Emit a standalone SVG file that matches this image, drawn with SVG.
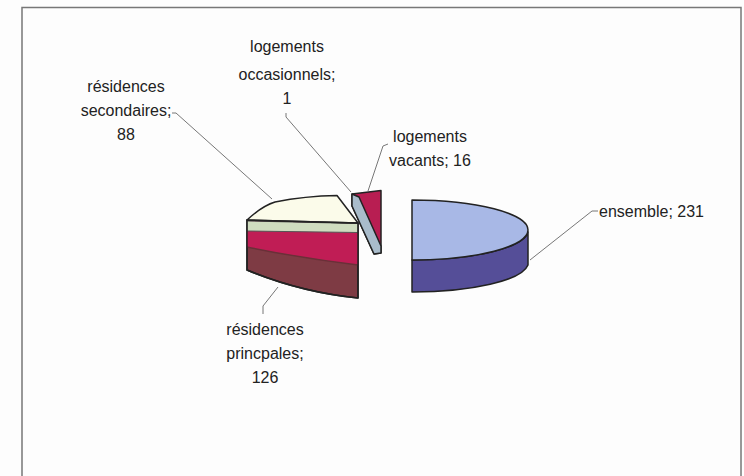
<svg xmlns="http://www.w3.org/2000/svg" width="744" height="476" viewBox="0 0 744 476">
<style>
.lbl{font-family:"Liberation Sans",Arial,sans-serif;font-size:16px;fill:#222;text-anchor:middle}
.lead{fill:none;stroke:#777;stroke-width:1}
.edge{stroke:#222;stroke-width:1.5;stroke-linejoin:round}
</style>
<rect x="0" y="0" width="744" height="476" fill="#fdfdfd"/>
<rect x="22" y="7.5" width="719" height="480" fill="none" stroke="#777" stroke-width="1.5"/>
<g id="connectors">
<polyline class="lead" points="172,113 176,113 272,199"/>
<polyline class="lead" points="286,113 286,117 351,192"/>
<polyline class="lead" points="388,144 383,146 368,191"/>
<polyline class="lead" points="598,211 592,211 530,260"/>
<polyline class="lead" points="278,287 263,306 263,314"/>
</g>
<g id="small-slice">
<polygon points="352,194 381,190.5 381,253 374,254 352,206" fill="#b81e52" class="edge"/>
<polygon points="352,194 359,197 381,246 381,253 374,254 352,206" fill="#a9bccb" class="edge"/>
</g>
<g id="left-slice">
<path d="M247,220 L358,223 L358,298 Q300,292 247,270 Z" fill="#7e3b44" class="edge"/>
<path d="M247,220 L358,223 L358,265 Q300,258 247,247 Z" fill="#c01d55"/>
<path d="M247,247 Q300,258 358,265" fill="none" stroke="#6a3038" stroke-width="1.5"/>
<path d="M247,221 L358,223.5 L358,232.5 L247,231 Z" fill="#cfdcbf" stroke="#555" stroke-width="1"/>
<path d="M247,220 Q262,206 275,202 Q305,196 337,195.5 L358,223 Z" fill="#fbfbea" class="edge"/>
<path d="M247,220 L358,223 L358,298 Q300,292 247,270 Z" fill="none" class="edge"/>
</g>
<g id="ensemble-slice">
<path d="M528,232 L528,265 A116,30 0 0 1 412,292 L412,260 A116,30 0 0 0 528,232 Z" fill="#554e98" class="edge"/>
<path d="M412,200 A116,30 0 0 1 412,260 Z" fill="#a8b8e6" class="edge"/>
</g>
<g id="lbl-secondaires">
<text class="lbl" x="126" y="92">résidences</text>
<text class="lbl" x="126" y="116">secondaires;</text>
<text class="lbl" x="126" y="140">88</text>
</g>
<g id="lbl-occasionnels">
<text class="lbl" x="287" y="52">logements</text>
<text class="lbl" x="287" y="80">occasionnels;</text>
<text class="lbl" x="287" y="104">1</text>
</g>
<g id="lbl-vacants">
<text class="lbl" x="430" y="142">logements</text>
<text class="lbl" x="430" y="166">vacants; 16</text>
</g>
<g id="lbl-ensemble">
<text class="lbl" x="599" y="217" style="text-anchor:start">ensemble; 231</text>
</g>
<g id="lbl-principales">
<text class="lbl" x="265" y="335">résidences</text>
<text class="lbl" x="265" y="359">princpales;</text>
<text class="lbl" x="265" y="383">126</text>
</g>
</svg>
